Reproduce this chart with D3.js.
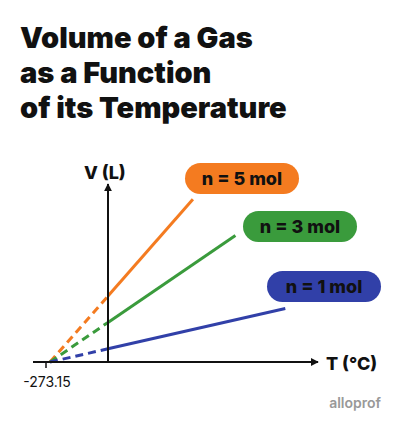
<!DOCTYPE html>
<html><head><meta charset="utf-8">
<script src="https://cdn.jsdelivr.net/npm/d3@7"></script>
<style>body{margin:0;background:#fff}text{font-family:Inter,"Noto Sans",sans-serif}</style>
</head><body><svg id="c" width="400" height="421"></svg>
<script>
const titleLines = ['Volume of a Gas', 'as a Function', 'of its Temperature'];
const series = ['n = 5 mol', 'n = 3 mol', 'n = 1 mol'];
const moles = [5, 3, 1];
const endTemps = [400, 600, 835];
const colors = ['#f47b20', '#3a9b3c', '#3140a8'];
const absZero = -273.15;

const svg = d3.select('#c');
const x = d3.scaleLinear().domain([absZero, 0]).range([50, 108]);
const vol = (n, t) => n * 22.4 * (t - absZero) / -absZero;
const y = d3.scaleLinear().domain([0, 112]).range([362, 296]);

svg.selectAll('.title').data(titleLines).enter().append('text')
    .attr('x', 20).attr('y', (d, i) => 48 + i * 35)
    .attr('font-size', 29).attr('font-weight', 900).attr('fill', '#111')
    .text(d => d);

const defs = svg.append('defs');
defs.append('marker').attr('id', 'arr').attr('viewBox', '0 0 10 10').attr('refX', 9).attr('refY', 5)
    .attr('markerWidth', 4).attr('markerHeight', 4).attr('orient', 'auto')
    .append('path').attr('d', 'M0,0L10,5L0,10z').attr('fill', '#111');

// lines
moles.forEach(function (n, i) {
    svg.append('line')
        .attr('x1', x(absZero)).attr('y1', y(0)).attr('x2', x(0)).attr('y2', y(vol(n, 0)))
        .attr('stroke', colors[i]).attr('stroke-width', 3).attr('stroke-dasharray', '8,5');
    svg.append('line')
        .attr('x1', x(0)).attr('y1', y(vol(n, 0))).attr('x2', x(endTemps[i])).attr('y2', y(vol(n, endTemps[i])))
        .attr('stroke', colors[i]).attr('stroke-width', 3);
});

// axes
svg.append('line').attr('x1', 33).attr('y1', y(0)).attr('x2', 318).attr('y2', y(0))
    .attr('stroke', '#111').attr('stroke-width', 2).attr('marker-end', 'url(#arr)');
svg.append('line').attr('x1', x(0)).attr('y1', y(0)).attr('x2', x(0)).attr('y2', 184)
    .attr('stroke', '#111').attr('stroke-width', 2).attr('marker-end', 'url(#arr)');
svg.append('line').attr('x1', x(absZero) - 4).attr('x2', x(absZero) - 4).attr('y1', y(0)).attr('y2', y(0) + 6)
    .attr('stroke', '#111').attr('stroke-width', 1.5);
svg.append('text').attr('x', 47).attr('y', 387).attr('text-anchor', 'middle').attr('font-size', 14).attr('fill', '#111').text(absZero);
svg.append('text').attr('x', 326).attr('y', 370).attr('font-size', 18).attr('font-weight', 800).attr('fill', '#111').text('T (°C)');
svg.append('text').attr('x', 84).attr('y', 179).attr('font-size', 18).attr('font-weight', 800).attr('fill', '#111').text('V (L)');

// pills
const pills = [[185, 163], [243, 211], [267, 271]];
series.forEach(function (s, i) {
    const g = svg.append('g').attr('transform', `translate(${pills[i][0]},${pills[i][1]})`);
    g.append('rect').attr('width', 114).attr('height', 31).attr('rx', 15.5).attr('fill', colors[i]);
    g.append('text').attr('x', 57).attr('y', 22).attr('text-anchor', 'middle')
        .attr('font-size', 18).attr('font-weight', 800).attr('fill', '#111').text(s);
});

svg.append('text').attr('x', 381).attr('y', 408).attr('text-anchor', 'end').attr('font-size', 14)
    .attr('font-weight', 600).attr('fill', '#999').text('alloprof');
</script></body></html>
